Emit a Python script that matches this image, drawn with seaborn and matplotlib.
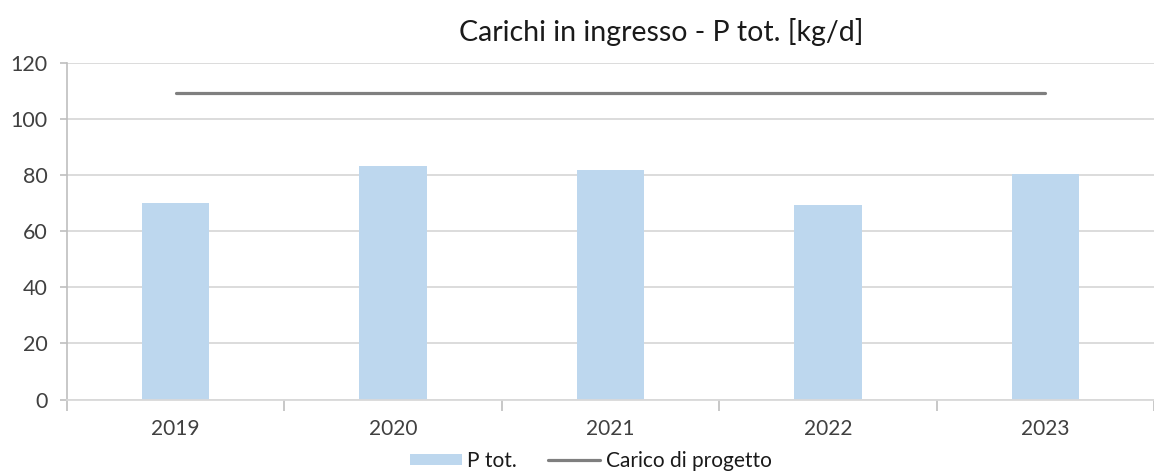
import numpy as np
import pandas as pd
import matplotlib
matplotlib.use("Agg")
import matplotlib.pyplot as plt
import seaborn as sns

# dati
years = ["2019", "2020", "2021", "2022", "2023"]
p_tot = [70.0, 83.2, 81.7, 69.3, 80.3]
design_load = [109.3, 109.3, 109.3, 109.3, 109.3]
y_ticks = [0, 20, 40, 60, 80, 100, 120]

sns.set_style("white")
plt.rcParams['font.family'] = ['Lato', 'DejaVu Sans']

df = pd.DataFrame({"Anno": years, "P tot.": p_tot})

fig = plt.figure(figsize=(11.54, 4.74), dpi=100)
ax = fig.add_axes([67 / 1154, 0.157, 1087 / 1154, 0.711])

sns.barplot(data=df, x="Anno", y="P tot.", color="#bdd7ee", saturation=1,
            width=0.31, ax=ax, label="P tot.", zorder=2, edgecolor="none", linewidth=0)
sns.lineplot(x=np.arange(len(years)), y=design_load, color="#7f7f7f", linewidth=2.3,
             ax=ax, label="Carico di progetto", zorder=3)

ax.set_xlim(-0.5, 4.44)
ax.set_ylim(0, 120)
ax.set_yticks(y_ticks)
ax.grid(axis="y", color="#d9d9d9", linewidth=1.3, zorder=0)
ax.set_axisbelow(True)
ax.set_xlabel("")
ax.set_ylabel("")

for s in ["top", "right"]:
    ax.spines[s].set_visible(False)
ax.spines["left"].set_color("#bfbfbf")
ax.spines["bottom"].set_color("#d9d9d9")
ax.spines["left"].set_linewidth(1.2)
ax.spines["bottom"].set_linewidth(1.3)

ax.set_xticks(np.arange(-0.5, len(years), 1.0), minor=True)
ax.tick_params(axis="x", which="major", bottom=True, length=0, pad=14, labelsize=15,
               labelcolor="#404040")
ax.tick_params(axis="x", which="minor", bottom=True, length=8, width=1.2, color="#bfbfbf",
               direction="out")
ax.tick_params(axis="y", left=True, length=5, width=1.2, color="#bfbfbf", direction="out",
               labelsize=15.5, labelcolor="#404040", pad=9)

fig.text(0.573, 0.933, "Carichi in ingresso - P tot. [kg/d]", ha="center", va="center",
         fontsize=20.5, color="#1a1a1a")

ax.get_legend().remove()
handles, labels = ax.get_legend_handles_labels()
order = [labels.index("P tot."), labels.index("Carico di progetto")]
fig.legend([handles[i] for i in order], [labels[i] for i in order], loc="center",
           bbox_to_anchor=(0.512, 0.028), ncol=2, frameon=False, fontsize=15,
           handlelength=2.5, handleheight=0.4, handletextpad=0.25,
           columnspacing=1.5, labelcolor="#1a1a1a")

fig.savefig("out.png", dpi=100)
